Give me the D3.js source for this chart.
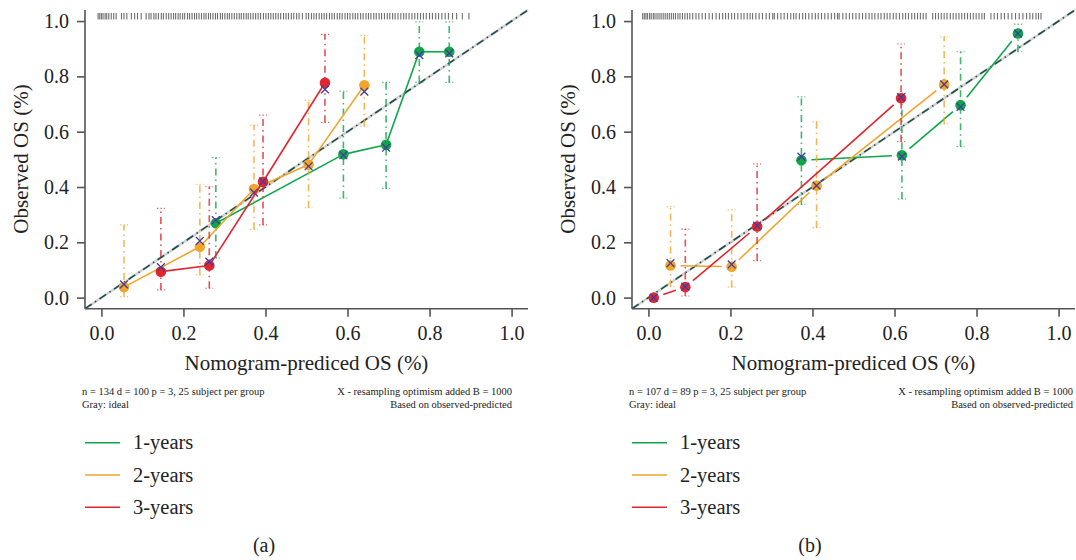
<!DOCTYPE html>
<html>
<head>
<meta charset="utf-8">
<script src="https://cdn.jsdelivr.net/npm/d3@7"></script>
<style>
body { margin: 0; background: #fff; }
</style>
</head>
<body>
<div id="container"></div>
<script>
var seriesNames = ['1-years', '2-years', '3-years'];
var seriesColors = ['#0fa64a', '#f2a52a', '#e0262e'];
var tickValues = [0.0, 0.2, 0.4, 0.6, 0.8, 1.0];

// panel (a)
var predA = [
    [0.279, 0.590, 0.694, 0.775, 0.848],
    [0.055, 0.240, 0.372, 0.505, 0.641],
    [0.145, 0.263, 0.394, 0.545]
];
var obsA = [
    [0.269, 0.518, 0.553, 0.889, 0.889],
    [0.038, 0.184, 0.393, 0.481, 0.768],
    [0.094, 0.116, 0.419, 0.777]
];
var lowA = [
    [0.143, 0.360, 0.395, 0.778, 0.778],
    [0.004, 0.082, 0.247, 0.325, 0.620],
    [0.028, 0.034, 0.263, 0.634]
];
var highA = [
    [0.506, 0.747, 0.778, 0.997, 0.997],
    [0.263, 0.410, 0.623, 0.714, 0.948],
    [0.323, 0.401, 0.660, 0.952]
];
var corrA = [
    [0.280, 0.515, 0.542, 0.877, 0.883],
    [0.048, 0.205, 0.380, 0.475, 0.745],
    [0.110, 0.130, 0.420, 0.753]
];
var rugA = [-0.008,-0.004,0.0,0.004,0.009,0.013,0.018,0.024,0.03,0.036,
    0.049,0.055,0.062,0.073,0.081,0.088,0.097,
    0.109,0.116,0.121,0.128,0.133,0.139,0.146,0.151,0.158,0.164,0.17,0.176,0.181,0.187,0.192,0.198,
    0.203,0.21,0.215,0.221,0.227,0.232,0.238,0.244,0.25,0.255,0.261,0.266,0.272,0.278,0.283,0.29,
    0.295,0.301,0.307,0.312,0.318,0.324,0.33,0.336,0.341,0.347,0.353,0.358,0.364,0.37,0.376,0.382,
    0.388,0.395,0.401,0.407,0.413,0.419,0.425,0.431,0.437,0.444,0.45,0.456,0.463,0.469,0.476,0.482,0.49,
    0.499,0.505,0.512,0.518,0.524,0.531,0.537,0.543,0.549,0.556,0.562,0.568,0.575,0.581,0.587,0.594,
    0.6,0.606,0.613,0.619,0.625,0.632,0.638,0.645,0.651,0.657,0.664,0.67,0.677,0.683,0.69,0.697,
    0.703,0.71,0.716,0.723,0.73,0.737,0.743,0.75,0.757,0.764,0.771,0.778,0.785,0.792,0.8,0.807,
    0.815,0.822,0.83,0.838,0.846,0.856,0.866,0.88,0.896];
var notesA = ['n = 134 d = 100 p = 3, 25 subject per group', 'Gray: ideal'];

// panel (b)
var predB = [
    [0.373, 0.618, 0.761, 0.901],
    [0.054, 0.203, 0.410, 0.721],
    [0.013, 0.090, 0.265, 0.616]
];
var obsB = [
    [0.497, 0.515, 0.696, 0.955],
    [0.116, 0.112, 0.405, 0.771],
    [0.000, 0.038, 0.257, 0.721]
];
var lowB = [
    [0.337, 0.357, 0.546, 0.889],
    [0.040, 0.038, 0.253, 0.628],
    [0.000, 0.006, 0.134, 0.564]
];
var highB = [
    [0.726, 0.739, 0.889, 0.989],
    [0.329, 0.317, 0.636, 0.943],
    [0.000, 0.248, 0.484, 0.917]
];
var corrB = [
    [0.510, 0.510, 0.690, 0.955],
    [0.125, 0.120, 0.405, 0.771],
    [0.000, 0.040, 0.260, 0.725]
];
var rugB = [-0.014,-0.01,-0.006,-0.002,0.003,0.007,0.012,0.016,0.021,0.026,0.031,0.036,0.041,0.046,
    0.051,0.056,0.061,0.066,0.072,0.077,0.083,0.089,0.095,0.101,0.108,
    0.116,0.123,0.131,0.139,0.148,0.156,0.165,0.173,
    0.181,0.188,0.195,0.203,0.21,0.218,0.226,0.233,0.241,0.248,0.254,
    0.262,0.27,0.278,0.287,0.295,0.303,0.307,0.315,0.323,0.331,0.339,0.347,0.354,0.36,
    0.368,0.376,0.383,0.391,0.399,0.407,0.414,0.422,0.43,0.438,0.446,0.454,0.461,0.465,
    0.474,0.482,0.49,0.498,0.506,0.514,0.522,0.53,
    0.538,0.545,0.552,0.56,0.567,0.575,0.582,0.589,0.597,0.604,0.612,0.62,0.627,0.634,0.642,
    0.649,0.656,0.663,0.67,0.677,
    0.693,0.7,0.707,0.714,0.721,0.728,0.736,0.743,0.75,0.757,0.764,0.771,0.778,0.785,0.792,
    0.799,0.806,0.813,0.819,
    0.835,0.843,0.851,0.86,0.868,0.877,0.886,0.895,0.904,0.913,0.922,0.93,0.937,
    0.945,0.951,0.957];
var notesB = ['n = 107 d = 89 p = 3, 25 subject per group', 'Gray: ideal'];

var notesRight = ['X - resampling optimism added B = 1000', 'Based on observed-predicted'];

var width = 1076;
var height = 560;
var fontFamily = '"Liberation Serif", serif';
var axisY = 308.7;

var svg = d3.select('#container').append('svg')
    .attr('width', width)
    .attr('height', height);

function addText(g, size) {
    return g.append('text')
        .style('font-family', fontFamily)
        .style('font-size', size + 'px')
        .style('fill', '#222');
}

function drawPanel(cfg) {
    var x = d3.scaleLinear().domain([-0.04, 1.04]).range([cfg.left, cfg.right]);
    var y = d3.scaleLinear().domain([-0.04, 1.04]).range([axisY, 10]);
    var g = svg.append('g');

    // ideal line
    g.append('line')
        .attr('x1', x(-0.04)).attr('y1', y(-0.04))
        .attr('x2', x(1.04)).attr('y2', y(1.04))
        .attr('stroke', '#d2d2d2').attr('stroke-width', 2.5);
    g.append('line')
        .attr('x1', x(-0.04)).attr('y1', y(-0.04))
        .attr('x2', x(1.04)).attr('y2', y(1.04))
        .attr('stroke', '#1d4d4a').attr('stroke-width', 1.6)
        .attr('stroke-dasharray', '8,4,1.5,4');

    // rug of predictions
    g.selectAll('line.rug')
        .data(cfg.rug)
        .enter().append('line')
        .attr('class', 'rug')
        .attr('x1', function (d) { return x(d); })
        .attr('x2', function (d) { return x(d); })
        .attr('y1', 13)
        .attr('y2', 19.5)
        .attr('stroke', '#555')
        .attr('stroke-width', 1.1)
        .attr('stroke-opacity', 0.85);

    for (var s = 0; s < seriesNames.length; s++) {
        var color = seriesColors[s];
        var pts = cfg.pred[s].map(function (p, i) {
            return { x: p, y: cfg.obs[s][i], lo: cfg.low[s][i], hi: cfg.high[s][i], c: cfg.corr[s][i] };
        });

        // error bars
        var bars = pts.filter(function (d) { return d.hi > d.lo; });
        g.selectAll(null).data(bars).enter().append('line')
            .attr('x1', function (d) { return x(d.x); })
            .attr('x2', function (d) { return x(d.x); })
            .attr('y1', function (d) { return y(d.lo); })
            .attr('y2', function (d) { return y(d.hi); })
            .attr('stroke', color).attr('stroke-width', 1.6)
            .attr('stroke-opacity', 0.8)
            .attr('stroke-dasharray', '7,4,1.5,4');
        ['lo', 'hi'].forEach(function (k) {
            g.selectAll(null).data(bars).enter().append('line')
                .attr('x1', function (d) { return x(d.x) - 4; })
                .attr('x2', function (d) { return x(d.x) + 4; })
                .attr('y1', function (d) { return y(d[k]); })
                .attr('y2', function (d) { return y(d[k]); })
                .attr('stroke', color).attr('stroke-width', 1.2)
                .attr('stroke-opacity', 0.7)
                .attr('stroke-dasharray', '1.5,2');
        });

        // connecting segments (with a gap near the points)
        var segs = [];
        for (var i = 0; i < pts.length - 1; i++) {
            var x1 = x(pts[i].x), y1 = y(pts[i].y);
            var x2 = x(pts[i + 1].x), y2 = y(pts[i + 1].y);
            var len = Math.sqrt((x2 - x1) * (x2 - x1) + (y2 - y1) * (y2 - y1));
            var ux = (x2 - x1) / len, uy = (y2 - y1) / len;
            segs.push({
                x1: x1 + ux * cfg.gap, y1: y1 + uy * cfg.gap,
                x2: x2 - ux * cfg.gap, y2: y2 - uy * cfg.gap
            });
        }
        g.selectAll(null).data(segs).enter().append('line')
            .attr('x1', function (d) { return d.x1; })
            .attr('y1', function (d) { return d.y1; })
            .attr('x2', function (d) { return d.x2; })
            .attr('y2', function (d) { return d.y2; })
            .attr('stroke', color).attr('stroke-width', 1.6);

        // points
        g.selectAll(null).data(pts).enter().append('circle')
            .attr('cx', function (d) { return x(d.x); })
            .attr('cy', function (d) { return y(d.y); })
            .attr('r', 5.3)
            .attr('fill', color);

        // bias-corrected X marks
        g.selectAll(null).data(pts).enter().append('path')
            .attr('d', function (d) {
                var cx = x(d.x), cy = y(d.c), r = 3.9;
                return 'M' + (cx - r) + ',' + (cy - r) + 'L' + (cx + r) + ',' + (cy + r) +
                    'M' + (cx - r) + ',' + (cy + r) + 'L' + (cx + r) + ',' + (cy - r);
            })
            .attr('stroke', '#433c9c').attr('stroke-width', 1.3)
            .attr('fill', 'none');
    }

    // axes
    var axisColor = '#555';
    g.append('line')
        .attr('x1', cfg.left).attr('x2', cfg.left)
        .attr('y1', 10).attr('y2', axisY)
        .attr('stroke', axisColor).attr('stroke-width', 1.6);
    g.append('line')
        .attr('x1', cfg.left).attr('x2', cfg.right)
        .attr('y1', axisY).attr('y2', axisY)
        .attr('stroke', axisColor).attr('stroke-width', 1.6);

    var yAxis = g.append('g')
        .attr('transform', 'translate(' + cfg.left + ',0)')
        .call(d3.axisLeft(y).tickValues(tickValues).tickFormat(d3.format('.1f')).tickSize(8).tickPadding(8));
    var xAxis = g.append('g')
        .attr('transform', 'translate(0,' + axisY + ')')
        .call(d3.axisBottom(x).tickValues(tickValues).tickFormat(d3.format('.1f')).tickSize(8).tickPadding(9));
    [xAxis, yAxis].forEach(function (a) {
        a.select('.domain').remove();
        a.selectAll('line').attr('stroke', axisColor).attr('stroke-width', 1.6);
        a.selectAll('text')
            .style('font-family', fontFamily)
            .style('font-size', '20px')
            .style('fill', '#222');
    });

    addText(g, 21)
        .attr('transform', 'translate(' + (cfg.left - 57) + ',159) rotate(-90)')
        .attr('text-anchor', 'middle')
        .text('Observed OS (%)');
    addText(g, 21)
        .attr('x', (cfg.left + cfg.right) / 2)
        .attr('y', 370)
        .attr('text-anchor', 'middle')
        .text('Nomogram-prediced OS (%)');

    // footnotes
    cfg.notes.forEach(function (d, i) {
        addText(g, 10.5)
            .attr('x', cfg.left - 3)
            .attr('y', 395 + i * 12.8)
            .text(d);
    });
    notesRight.forEach(function (d, i) {
        addText(g, 10.5)
            .attr('x', cfg.noteRight)
            .attr('y', 395 + i * 12.8)
            .attr('text-anchor', 'end')
            .text(d);
    });

    // legend
    seriesNames.forEach(function (d, i) {
        var ly = 442.7 + i * 32.3;
        g.append('line')
            .attr('x1', cfg.left).attr('x2', cfg.left + 35)
            .attr('y1', ly).attr('y2', ly)
            .attr('stroke', seriesColors[i])
            .attr('stroke-width', 1.6);
        addText(g, 20.5)
            .attr('x', cfg.left + 48)
            .attr('y', ly + 6.6)
            .text(d);
    });

    addText(g, 20)
        .attr('x', cfg.labelX)
        .attr('y', 552)
        .attr('text-anchor', 'middle')
        .text(cfg.label);
}

drawPanel({
    left: 85, right: 528,
    pred: predA, obs: obsA, low: lowA, high: highA, corr: corrA,
    rug: rugA, notes: notesA, noteRight: 512, gap: 0,
    label: '(a)', labelX: 264
});

drawPanel({
    left: 632, right: 1075,
    pred: predB, obs: obsB, low: lowB, high: highB, corr: corrB,
    rug: rugB, notes: notesB, noteRight: 1073, gap: 10,
    label: '(b)', labelX: 810
});
</script>
</body>
</html>
